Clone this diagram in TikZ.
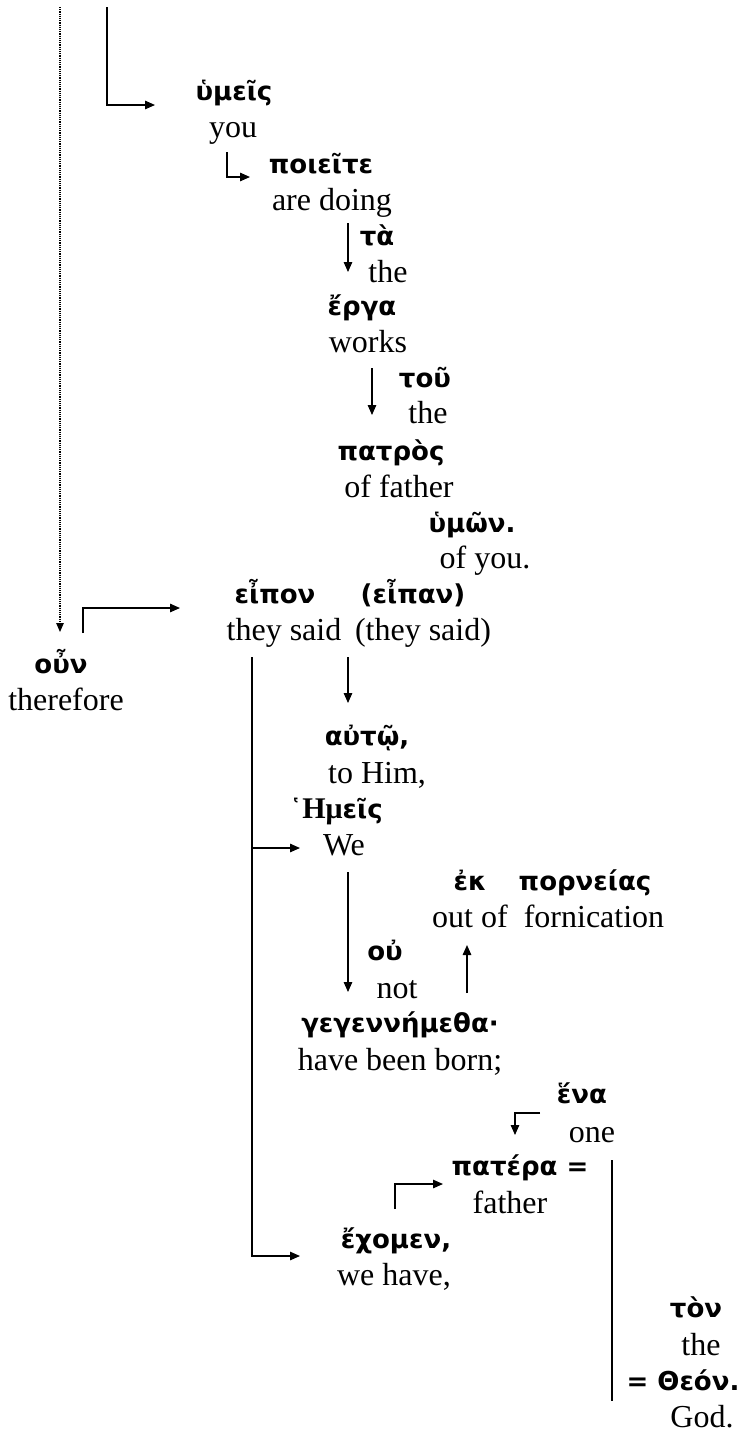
\documentclass[tikz,border=0pt]{standalone}
\usepackage{fontspec}
\usetikzlibrary{arrows.meta}
\setmainfont{Liberation Serif}
\newfontfamily\grkfam{DejaVu Sans}
\newfontfamily\serbfam{Liberation Serif}
\newcommand\grkfont{\grkfam\bfseries\fontsize{26}{30}\selectfont}
\newcommand\engfont{\rmfamily\fontsize{32}{38}\selectfont}
\tikzset{
  gr/.style={font=\grkfont, inner sep=0pt, anchor=base},
  en/.style={font=\engfont, inner sep=0pt, anchor=base},
  conn/.style={line width=1.3pt},
  arr/.style={conn, -{Triangle[length=10pt,width=8.5pt]}},
  dotline/.style={line width=1.1pt, dash pattern=on 1.1pt off 1.1pt, -{Triangle[length=9pt,width=7.5pt]}}
}
\begin{document}
\begin{tikzpicture}[x=1pt,y=-1pt]
\path[use as bounding box, fill=white] (0,0) rectangle (740,1433);
% texts
\node[gr] (g1) at (234,100) {ὑμεῖς};
\node[en] (e1) at (233,137) {you};
\node[gr] (g2) at (321,173) {ποιεῖτε};
\node[en] (e2) at (332,210) {are doing};
\node[gr] (g3) at (377,245) {τὰ};
\node[en] (e3) at (388,282) {the};
\node[gr] (g4) at (362,315) {ἔργα};
\node[en] (e4) at (368,352) {works};
\node[gr] (g5) at (425,387) {τοῦ};
\node[en] (e5) at (428,423) {the};
\node[gr] (g6) at (391,460) {πατρὸς};
\node[en] (e6) at (399,497) {of father};
\node[gr] (g7) at (472,532) {ὑμῶν.};
\node[en] (e7) at (485,568) {of you.};
\node[gr] (g8) at (275,603) {εἶπον};
\node[gr] (g9) at (413,603) {(εἶπαν)};
\node[en] (e8) at (284,640) {they said};
\node[en] (e8b) at (423,640) {(they said)};
\node[gr] (g10) at (61,673) {οὖν};
\node[en] (e9) at (66,710) {therefore};
\node[gr] (g11) at (367,745) {αὐτῷ,};
\node[en] (e10) at (377,783) {to Him,};
\node[gr] (g12) at (336,818) {῾{\serbfam\bfseries\fontsize{30}{34}\selectfont Ημ}εῖς};
\node[en] (e11) at (344,855) {We};
\node[gr] (g13) at (470,890) {ἐκ};
\node[gr] (g14) at (585,890) {πορνείας};
\node[en] (e12) at (470,927) {out of};
\node[en] (e12b) at (594,927) {fornication};
\node[gr] (g15) at (385,960) {οὐ};
\node[en] (e13) at (397,998) {not};
\node[gr] (g16) at (400,1032) {γεγεννήμεθα·};
\node[en] (e14) at (400,1070) {have been born;};
\node[gr] (g17) at (582,1103) {ἕνα};
\node[en] (e15) at (592,1142) {one};
\node[gr] (g18) at (520,1175) {πατέρα =};
\node[en] (e16) at (510,1213) {father};
\node[gr] (g19) at (396,1248) {ἔχομεν,};
\node[en] (e17) at (394,1285) {we have,};
\node[gr] (g20) at (696,1317) {τὸν};
\node[en] (e18) at (701,1355) {the};
\node[gr] (g21) at (683,1390) {= Θεόν.};
\node[en] (e19) at (702,1427) {God.};
% connector points
\coordinate (dA) at (60,7);
\coordinate (dB) at (60,632);
\coordinate (sA) at (107,7);
\coordinate (sB) at (155,105);
\coordinate (pA) at (227,152);
\coordinate (pB) at (250,177);
\coordinate (tA) at (348,223);
\coordinate (tB) at (348,272);
\coordinate (uA) at (372,368);
\coordinate (uB) at (372,415);
\coordinate (oA) at (83,633);
\coordinate (oB) at (180,608);
\coordinate (vA) at (252,657);
\coordinate (vB) at (300,1256);
\coordinate (vC) at (252,848);
\coordinate (vD) at (300,848);
\coordinate (aA) at (348,657);
\coordinate (aB) at (348,703);
\coordinate (wA) at (348,872);
\coordinate (wB) at (348,992);
\coordinate (kA) at (467,993);
\coordinate (kB) at (467,945);
\coordinate (nA) at (540,1113);
\coordinate (nB) at (515,1135);
\coordinate (xA) at (395,1209);
\coordinate (xB) at (443,1184);
\coordinate (rA) at (612,1160);
\coordinate (rB) at (612,1401);
% connectors
\draw[dotline] (dA) -- (dB);
\draw[arr] (sA) |- (sB);
\draw[arr] (pA) |- (pB);
\draw[arr] (tA) -- (tB);
\draw[arr] (uA) -- (uB);
\draw[arr] (oA) |- (oB);
\draw[arr] (vA) |- (vB);
\draw[arr] (vC) -- (vD);
\draw[arr] (aA) -- (aB);
\draw[arr] (wA) -- (wB);
\draw[arr] (kA) -- (kB);
\draw[arr] (nA) -| (nB);
\draw[arr] (xA) |- (xB);
\draw[conn] (rA) -- (rB);
\end{tikzpicture}
\end{document}
